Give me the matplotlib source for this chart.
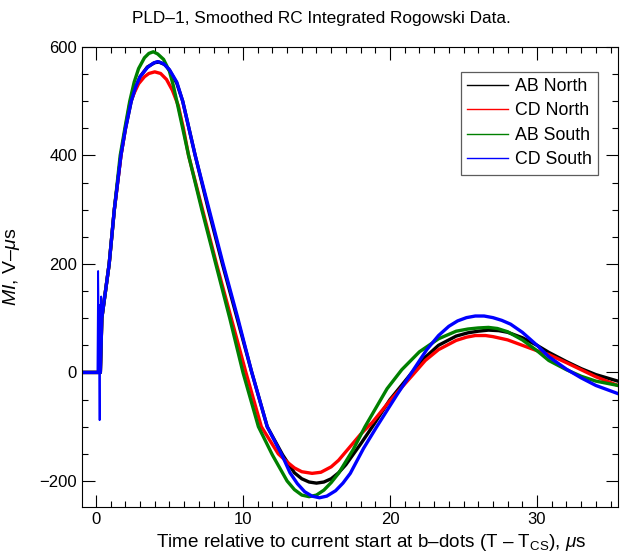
import matplotlib
matplotlib.use("Agg")
import matplotlib.pyplot as plt
from matplotlib.ticker import MultipleLocator

# values: time (us) and MI (V-us) per probe
t_ab_north = [-1, 0, 0.3, 0.4, 0.9, 1.25, 1.7, 2.0, 2.4, 2.7, 3.0, 3.5, 4.0,
              4.3, 4.7, 5.0, 5.5, 5.9, 6.75, 7.65, 8.6, 9.6, 10.6, 11.65,
              12.7, 13.5, 14.0, 14.5, 15.0, 15.5, 16.0, 16.5, 17.0, 18.0,
              18.8, 20.0, 21.5, 22.4, 23.3, 24.5, 25.3, 26.0, 26.7, 27.4,
              28.0, 29.0, 30.0, 30.8, 32.0, 33.0, 34.0, 35.5]
ab_north = [0, 0, 0, 100, 200, 300, 400, 448, 500, 525, 545, 563, 571,
            572, 567, 557, 533, 500, 400, 300, 200, 100, 0, -100,
            -152, -185, -196, -202, -204, -202, -196, -185, -170, -132,
            -100, -50, 0, 28, 50, 67, 73, 76, 78, 77,
            74, 64, 50, 37, 20, 7, -4, -16]

t_cd_north = [-1, 0, 0.3, 0.4, 0.9, 1.25, 1.7, 2.0, 2.3, 2.6, 2.9, 3.3, 3.6,
              4.0, 4.4, 4.8, 5.2, 5.6, 5.95, 6.3, 7.25, 8.2, 9.2, 10.2,
              11.25, 12.4, 13.0, 13.5, 14.0, 14.7, 15.3, 16.0, 16.5, 17.0,
              18.0, 18.8, 20.0, 21.5, 22.4, 23.3, 24.5, 25.2, 25.8, 26.5,
              27.0, 28.0, 29.0, 30.0, 30.8, 32.0, 33.0, 34.0, 35.5]
cd_north = [0, 0, 0, 100, 200, 300, 400, 450, 495, 515, 532, 545, 551,
            554, 551, 540, 520, 492, 450, 400, 300, 200, 100, 0,
            -100, -150, -165, -176, -183, -186, -184, -174, -162, -146,
            -114, -92, -52, -6, 22, 42, 59, 65, 68, 68,
            66, 60, 50, 40, 33, 18, 5, -8, -24]

t_ab_south = [-1, 0, 0.3, 0.4, 0.9, 1.25, 1.65, 2.0, 2.3, 2.6, 2.9, 3.3, 3.6,
              3.9, 4.2, 4.6, 5.0, 5.25, 5.5, 5.9, 6.3, 7.2, 8.15, 9.1,
              10.0, 11.05, 12.0, 12.5, 13.0, 13.5, 14.0, 14.5, 15.0, 15.5,
              16.0, 16.5, 17.5, 18.3, 19.8, 20.8, 22.0, 23.3, 24.5, 25.3,
              26.0, 26.7, 27.3, 28.0, 29.0, 30.0, 30.8, 32.0, 33.0, 34.0,
              35.5]
ab_south = [0, 0, 0, 100, 200, 300, 400, 455, 500, 535, 560, 580, 588,
            591, 587, 577, 555, 530, 500, 450, 400, 300, 200, 100,
            0, -100, -152, -176, -200, -216, -226, -229, -226, -217,
            -203, -186, -142, -100, -30, 5, 38, 62, 76, 80,
            82, 83, 81, 75, 60, 40, 22, 5, -7, -16,
            -24]

t_cd_south = [-1, 0, 0.3, 0.4, 0.9, 1.25, 1.7, 2.0, 2.4, 2.7, 3.0, 3.5, 3.9,
              4.2, 4.6, 5.0, 5.5, 5.9, 6.75, 7.7, 8.65, 9.65, 10.6, 11.65,
              12.7, 13.2, 13.7, 14.2, 14.7, 15.2, 15.7, 16.3, 16.8, 17.3,
              18.2, 19.1, 20.5, 21.6, 22.5, 23.3, 24.0, 24.6, 25.2, 25.8,
              26.4, 27.0, 27.6, 28.2, 29.0, 30.0, 30.8, 32.0, 33.0, 34.0,
              35.5]
cd_south = [0, 0, 0, 100, 200, 300, 400, 448, 500, 526, 545, 562, 570,
            573, 569, 558, 535, 500, 400, 300, 200, 100, 0, -100,
            -155, -185, -205, -220, -228, -231, -228, -218, -204, -186,
            -140, -100, -40, 5, 42, 68, 85, 95, 101, 104,
            104, 101, 96, 89, 74, 50, 29, 6, -10, -24,
            -39]

# start-up ringing visible on the CD South trace
spike_t = [0.0, 0.1, 0.15, 0.2, 0.25, 0.3, 0.33, 0.36, 0.4]
spike_v = [0, 0, 187, 60, -88, 125, 30, 140, 100]

labels = ["AB North", "CD North", "AB South", "CD South"]
colors = ["black", "red", "green", "blue"]

plt.rcParams["font.family"] = ["Liberation Sans", "DejaVu Sans"]
plt.rcParams["mathtext.fontset"] = "custom"
plt.rcParams["mathtext.rm"] = "Liberation Sans"
plt.rcParams["mathtext.it"] = "Liberation Sans:italic"

fig = plt.figure(figsize=(6.21, 5.55), dpi=100)
ax = fig.add_axes([0.132, 0.0865, 0.863, 0.829])

series = [(t_ab_north, ab_north), (t_cd_north, cd_north),
          (t_ab_south, ab_south), (t_cd_south, cd_south)]
for (ts, ys), c, lab in zip(series, colors, labels):
    ax.plot(ts, ys, color=c, lw=2.4, label=lab, solid_joinstyle="round")

ax.plot(spike_t, spike_v, color="blue", lw=1.3)

ax.set_xlim(-0.95, 35.5)
ax.set_ylim(-248, 600)
ax.xaxis.set_major_locator(MultipleLocator(10))
ax.xaxis.set_minor_locator(MultipleLocator(1))
ax.yaxis.set_major_locator(MultipleLocator(200))
ax.yaxis.set_minor_locator(MultipleLocator(50))
ax.tick_params(which="both", direction="in", top=True, right=True,
               labelsize=12, width=0.8)
ax.tick_params(which="major", length=9)
ax.tick_params(which="minor", length=4.5)
for s in ax.spines.values():
    s.set_linewidth(0.8)

fig.text(0.517, 0.967, "PLD\u20131, Smoothed RC Integrated Rogowski Data.",
         fontsize=12.4, ha="center", va="center")
ax.set_xlabel("Time relative to current start at b\u2013dots (T \u2013 T$_{\\rm CS}$), $\\mu$s",
              fontsize=13.6, labelpad=1)
ax.xaxis.set_label_coords(0.539, -0.055)
ax.set_ylabel("$MI$, V\u2013$\\mu$s", fontsize=14)
ax.yaxis.set_label_coords(-0.112, 0.522)

leg = ax.legend(loc="upper right", bbox_to_anchor=(0.963, 0.946), fontsize=12.8,
                frameon=True, fancybox=False, handlelength=2.3,
                borderpad=0.35, labelspacing=0.42, handletextpad=0.4,
                borderaxespad=0)
leg.get_frame().set_edgecolor("#333333")
leg.get_frame().set_linewidth(0.9)
for h in leg.get_lines():
    h.set_linewidth(1.0)

fig.savefig("out.png", dpi=100)
